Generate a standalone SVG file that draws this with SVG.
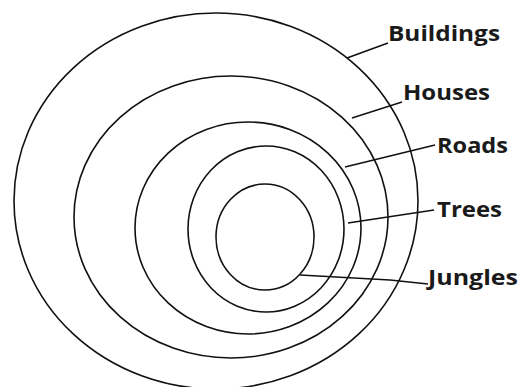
<svg xmlns="http://www.w3.org/2000/svg" width="525" height="387" viewBox="0 0 525 387">
<style>
.ring{fill:none;stroke:#111;stroke-width:1.6}
.lead{fill:none;stroke:#111;stroke-width:1.6}
.lbl{font-family:"Open Sans","Liberation Sans",sans-serif;font-weight:bold;font-size:21px;fill:#1a1a1a}
</style>
<rect width="525" height="387" fill="#fff"/>
<g id="buildings"><ellipse class="ring" cx="216" cy="201" rx="202" ry="188"/><text class="lbl" x="388" y="41" textLength="112" lengthAdjust="spacingAndGlyphs">Buildings</text></g>
<g id="houses"><ellipse class="ring" cx="231" cy="217" rx="157" ry="141"/><text class="lbl" x="403" y="100" textLength="87" lengthAdjust="spacingAndGlyphs">Houses</text></g>
<g id="roads"><ellipse class="ring" cx="248" cy="228" rx="113" ry="106"/><text class="lbl" x="437" y="153" textLength="71" lengthAdjust="spacingAndGlyphs">Roads</text></g>
<g id="trees"><ellipse class="ring" cx="266" cy="229" rx="78" ry="83"/><text class="lbl" x="437" y="217" textLength="65" lengthAdjust="spacingAndGlyphs">Trees</text></g>
<g id="jungles"><ellipse class="ring" cx="265" cy="237" rx="49" ry="53"/><text class="lbl" x="428" y="285" textLength="90" lengthAdjust="spacingAndGlyphs">Jungles</text></g>
<g id="connectors">
<line class="lead" x1="347" y1="58" x2="388" y2="43"/>
<line class="lead" x1="352" y1="118" x2="402" y2="102"/>
<line class="lead" x1="345" y1="167" x2="435" y2="145"/>
<line class="lead" x1="348" y1="223" x2="434" y2="210"/>
<polyline class="lead" points="300,275 390,280 428,284"/>
</g>
</svg>
